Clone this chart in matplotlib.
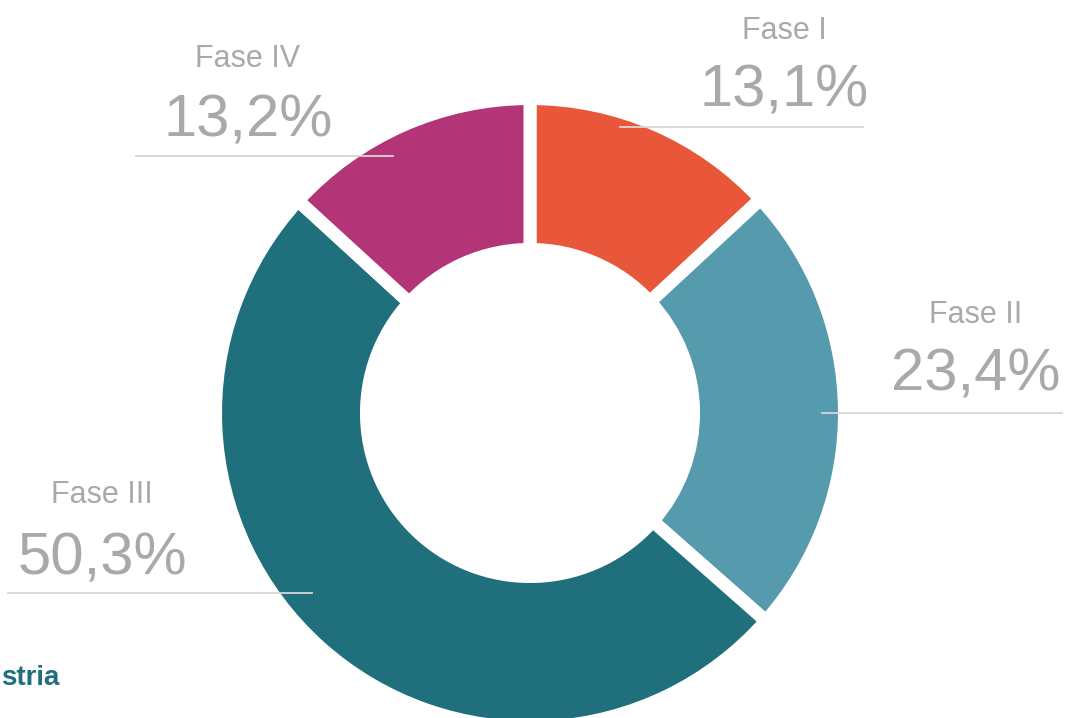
import matplotlib
matplotlib.use("Agg")
import matplotlib.pyplot as plt

fases = ["Fase I", "Fase II", "Fase III", "Fase IV"]
shares = [13.1, 23.4, 50.3, 13.2]
value_labels = ["13,1%", "23,4%", "50,3%", "13,2%"]
colors = ["#E8573A", "#559BAD", "#1F6F7D", "#B33477"]

W, H = 1065, 718

fig = plt.figure(figsize=(W / 100, H / 100), dpi=100)
ax = fig.add_axes([0, 0, 1, 1])

# donut, white edges give the gaps between slices
ax.pie(shares, colors=colors, startangle=90, counterclock=False,
       radius=314.5, center=(530, H - 413),
       wedgeprops=dict(width=151, edgecolor="white", linewidth=9.4))

# label positions in pixels from the top-left: (x centre, label baseline, value baseline)
label_pos = [(784, 39, 107), (976, 323, 390), (102, 503, 574), (248, 67, 137)]
# leader lines: (x0, x1, y)
leaders = [(620, 863, 127), (822, 1062, 413), (8, 312, 593), (136, 393, 156)]

grey = "#a9a9a9"
for name, val, (x, yl, yv), (x0, x1, yy) in zip(fases, value_labels, label_pos, leaders):
    ax.plot([x0, x1], [H - yy, H - yy], color="#d6d6d6", lw=1.3, zorder=5)
    ax.text(x, H - yl, name, ha="center", va="baseline", fontsize=22,
            color=grey, family="Liberation Sans")
    ax.text(x, H - yv, val, ha="center", va="baseline", fontsize=43,
            color=grey, family="Liberation Sans")

ax.text(1, H - 685, "stria", ha="left", va="baseline", fontsize=20,
        color="#1F6F7D", family="Liberation Sans", fontweight="bold")

ax.set_xlim(0, W)
ax.set_ylim(0, H)
ax.set_aspect("equal")
ax.axis("off")

fig.savefig("out.png", dpi=100)
